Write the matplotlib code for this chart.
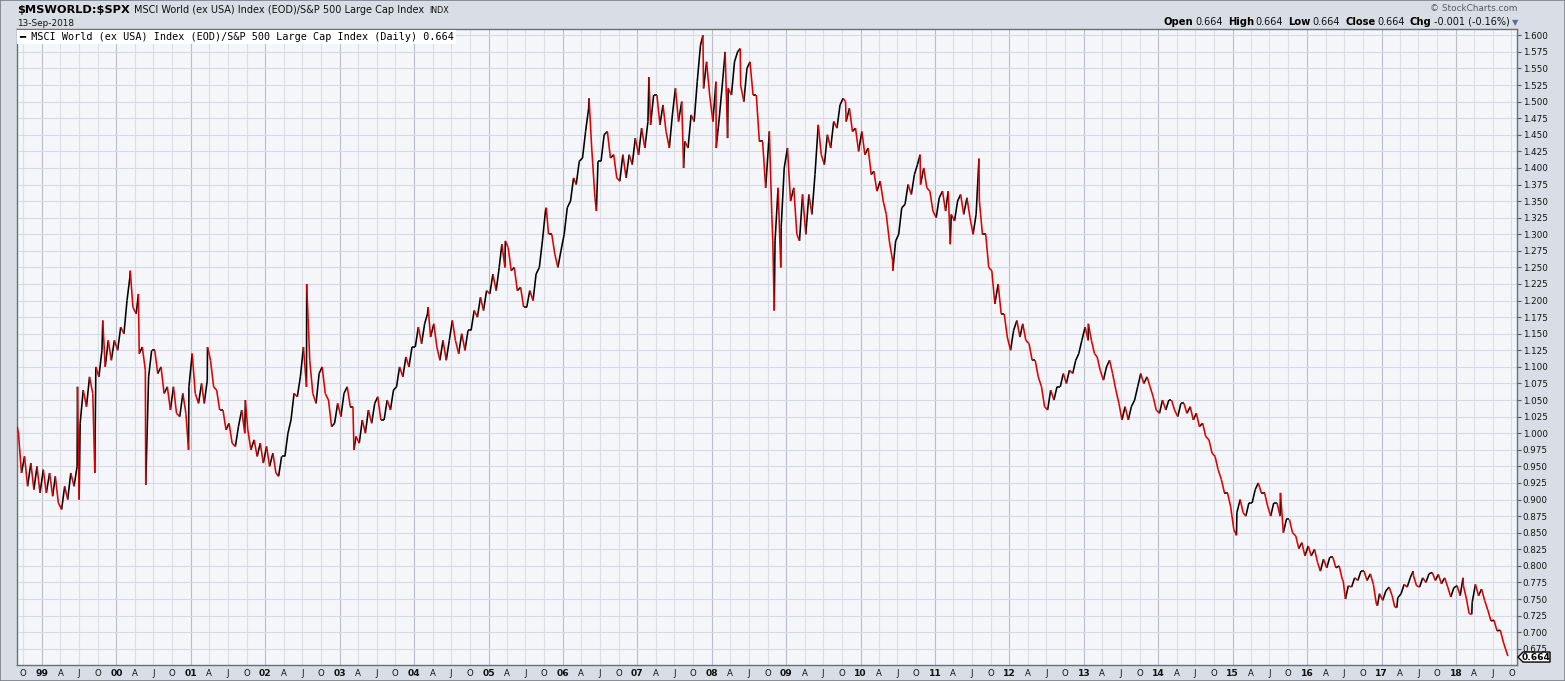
import matplotlib
matplotlib.use('Agg')
import matplotlib.dates as mdates
import matplotlib.transforms as mtransforms
import numpy as np
import pandas as pd
from matplotlib import pyplot as plt
from matplotlib.collections import LineCollection
from matplotlib.patches import Polygon, Rectangle
from matplotlib.ticker import FormatStrFormatter, FuncFormatter

W, H = 1565, 681

# - Data

# monthly low / high of the ratio, Sep 1998 .. Aug 2018
month_lo = [
    0.94, 0.92, 0.915, 0.91,
    0.91, 0.905, 0.895, 0.885, 0.90, 0.92, 1.015, 1.04, 1.06, 1.085, 1.10, 1.11,
    1.125, 1.15, 1.19, 1.12, 1.095, 1.085, 1.09, 1.06, 1.035, 1.03, 1.025, 1.03,
    1.06, 1.045, 1.045, 1.07, 1.035, 1.005, 0.985, 0.98, 1.00, 0.975, 0.965, 0.955,
    0.95, 0.94, 0.935, 0.965, 1.02, 1.055, 1.07, 1.06, 1.045, 1.06, 1.01, 1.015,
    1.025, 1.04, 0.995, 0.985, 1.00, 1.015, 1.02, 1.02, 1.035, 1.07, 1.085, 1.10,
    1.13, 1.135, 1.145, 1.13, 1.11, 1.11, 1.14, 1.12, 1.125, 1.155, 1.175, 1.185,
    1.21, 1.215, 1.25, 1.245, 1.215, 1.19, 1.19, 1.20, 1.25, 1.30, 1.27, 1.25,
    1.30, 1.35, 1.375, 1.415, 1.43, 1.355, 1.41, 1.415, 1.385, 1.38, 1.385, 1.405,
    1.42, 1.43, 1.465, 1.465, 1.455, 1.43, 1.47, 1.44, 1.43, 1.47, 1.52, 1.51,
    1.47, 1.475, 1.52, 1.51, 1.525, 1.50, 1.51, 1.44, 1.37, 1.33, 1.29, 1.31,
    1.35, 1.30, 1.29, 1.30, 1.33, 1.42, 1.405, 1.43, 1.46, 1.47, 1.455, 1.425,
    1.42, 1.39, 1.365, 1.35, 1.29, 1.26, 1.30, 1.345, 1.36, 1.375, 1.37, 1.335,
    1.325, 1.335, 1.33, 1.32, 1.33, 1.325, 1.30, 1.30, 1.25, 1.195, 1.18, 1.145,
    1.125, 1.145, 1.14, 1.11, 1.085, 1.04, 1.035, 1.05, 1.07, 1.075, 1.09, 1.12,
    1.14, 1.12, 1.095, 1.08, 1.09, 1.045, 1.02, 1.02, 1.05, 1.075, 1.07, 1.035,
    1.03, 1.035, 1.035, 1.025, 1.03, 1.02, 1.01, 0.995, 0.97, 0.945, 0.91, 0.89,
    0.855, 0.88, 0.875, 0.895, 0.91, 0.89, 0.875, 0.875, 0.85, 0.85, 0.826, 0.815,
    0.815, 0.805, 0.792, 0.797, 0.797, 0.78, 0.752, 0.768, 0.778, 0.778, 0.772, 0.742,
    0.748, 0.755, 0.738, 0.758, 0.768, 0.77, 0.768, 0.775, 0.778, 0.773, 0.768, 0.753,
    0.755, 0.75, 0.728, 0.755, 0.748, 0.717, 0.702, 0.685,
]
month_hi = [
    1.00, 0.965, 0.955, 0.95,
    0.945, 0.94, 0.935, 0.92, 0.94, 0.95, 1.065, 1.085, 1.10, 1.125, 1.14, 1.14,
    1.16, 1.20, 1.235, 1.18, 1.13, 1.125, 1.125, 1.10, 1.07, 1.07, 1.06, 1.07,
    1.12, 1.075, 1.08, 1.11, 1.065, 1.035, 1.015, 1.01, 1.035, 1.005, 0.99, 0.985,
    0.98, 0.97, 0.965, 1.00, 1.06, 1.085, 1.13, 1.11, 1.09, 1.10, 1.05, 1.045,
    1.06, 1.07, 1.04, 1.02, 1.035, 1.045, 1.055, 1.05, 1.065, 1.10, 1.115, 1.13,
    1.16, 1.165, 1.18, 1.165, 1.14, 1.14, 1.17, 1.15, 1.155, 1.185, 1.205, 1.215,
    1.24, 1.25, 1.285, 1.28, 1.25, 1.22, 1.215, 1.24, 1.29, 1.335, 1.30, 1.275,
    1.34, 1.385, 1.41, 1.455, 1.49, 1.41, 1.45, 1.455, 1.42, 1.42, 1.42, 1.445,
    1.46, 1.47, 1.51, 1.51, 1.495, 1.48, 1.52, 1.50, 1.48, 1.53, 1.585, 1.56,
    1.53, 1.525, 1.575, 1.56, 1.575, 1.55, 1.56, 1.51, 1.44, 1.44, 1.37, 1.40,
    1.43, 1.37, 1.36, 1.36, 1.39, 1.465, 1.45, 1.47, 1.495, 1.505, 1.49, 1.46,
    1.455, 1.43, 1.395, 1.38, 1.33, 1.29, 1.34, 1.375, 1.39, 1.405, 1.40, 1.365,
    1.355, 1.365, 1.365, 1.35, 1.36, 1.355, 1.33, 1.35, 1.30, 1.245, 1.225, 1.18,
    1.155, 1.17, 1.165, 1.135, 1.11, 1.07, 1.065, 1.07, 1.09, 1.095, 1.11, 1.14,
    1.16, 1.14, 1.115, 1.10, 1.11, 1.065, 1.04, 1.04, 1.07, 1.09, 1.085, 1.055,
    1.05, 1.05, 1.05, 1.045, 1.045, 1.04, 1.03, 1.015, 0.99, 0.965, 0.93, 0.91,
    0.88, 0.90, 0.895, 0.915, 0.925, 0.91, 0.895, 0.895, 0.87, 0.87, 0.845, 0.835,
    0.83, 0.825, 0.81, 0.813, 0.813, 0.80, 0.77, 0.782, 0.792, 0.792, 0.788, 0.758,
    0.762, 0.768, 0.752, 0.772, 0.782, 0.785, 0.782, 0.788, 0.79, 0.787, 0.782, 0.767,
    0.77, 0.77, 0.745, 0.772, 0.765, 0.733, 0.718, 0.703,
]

# single-day spikes and the first / last closes
spike_dates = ['1998-09-01', '1999-06-24', '1999-07-02', '1999-09-17', '1999-10-26',
               '2000-03-09', '2000-04-18', '2000-05-24', '2000-12-20', '2001-03-23',
               '2001-09-25', '2002-07-23', '2003-03-12', '2004-03-10', '2005-03-24',
               '2005-10-11', '2006-05-09', '2006-06-14', '2007-02-27', '2007-08-16',
               '2007-11-19', '2008-01-23', '2008-03-19', '2008-05-20', '2008-10-10',
               '2008-10-27', '2008-11-03', '2008-12-05', '2009-10-19', '2010-06-08',
               '2010-10-20', '2011-03-17', '2011-08-05', '2013-01-23', '2015-01-20',
               '2015-08-24', '2016-06-27', '2016-07-08', '2016-12-12', '2017-03-17',
               '2017-06-05', '2018-02-05', '2018-03-20', '2018-09-13']
spike_vals = [1.01, 1.07, 0.90, 0.94, 1.17,
              1.245, 1.21, 0.922, 0.975, 1.13,
              1.05, 1.225, 0.975, 1.19, 1.29,
              1.34, 1.505, 1.335, 1.537, 1.40,
              1.60, 1.43, 1.445, 1.58, 1.455,
              1.29, 1.185, 1.25, 1.50, 1.245,
              1.42, 1.285, 1.414, 1.165, 0.846,
              0.91, 0.777, 0.75, 0.74, 0.737,
              0.792, 0.782, 0.727, 0.664]

y_ticks = np.arange(0.675, 1.6001, 0.025)

# two prints a month: the low and the high, in the order the trend runs
lo = np.array(month_lo)
hi = np.array(month_hi)
mid = (lo + hi) / 2
nxt = np.append(mid[1:], spike_vals[-1])
first = np.where(nxt >= mid, lo, hi)
second = np.where(nxt >= mid, hi, lo)
months = pd.date_range('1998-09-01', periods=len(lo), freq='MS')
s = pd.concat([pd.Series(first, index=months + pd.Timedelta(days=6)),
               pd.Series(second, index=months + pd.Timedelta(days=21)),
               pd.Series(spike_vals, index=pd.to_datetime(spike_dates))]).sort_index()
last = s.iloc[-1]

# - Plot

plt.rcParams['font.family'] = ['DejaVu Sans']

fig = plt.figure(figsize=(W / 100, H / 100), dpi=100, facecolor='#d9dee6')
ax = fig.add_axes([17 / W, 1 - 665 / H, 1500 / W, 636 / H])
ax.set_facecolor('#f4f6fa')

x = mdates.date2num(s.index.to_pydatetime())
y = s.values
pts = np.column_stack([x, y])
segs = np.stack([pts[:-1], pts[1:]], axis=1)
down = np.diff(y) < 0
ax.add_collection(LineCollection(segs[~down], colors='#000000', linewidths=1.15, zorder=3))
ax.add_collection(LineCollection(segs[down], colors='#e00000', linewidths=1.15, zorder=4))

ax.set_xlim(mdates.date2num(pd.Timestamp('1998-08-31')), mdates.date2num(pd.Timestamp('2018-10-28')))
ax.set_ylim(0.6505, 1.6095)

ax.yaxis.tick_right()
ax.set_yticks(y_ticks)
ax.yaxis.set_major_formatter(FormatStrFormatter('%.3f'))
ax.tick_params(axis='y', direction='out', length=3, width=0.8, color='#555a66',
               pad=1, labelsize=6.3, labelcolor='#111111')

ax.xaxis.set_major_locator(mdates.YearLocator())
ax.xaxis.set_major_formatter(mdates.DateFormatter('%y'))
ax.xaxis.set_minor_locator(mdates.MonthLocator(bymonth=[4, 7, 10]))
ax.xaxis.set_minor_formatter(FuncFormatter(lambda v, p: mdates.num2date(v).strftime('%b')[0]))
ax.tick_params(axis='x', which='both', length=0, pad=3, labelsize=6.2, labelcolor='#111111')
for t in ax.get_xticklabels(which='major'):
    t.set_fontweight('bold')
    t.set_fontsize(6.6)

ax.grid(which='major', axis='x', color='#b9bdc7', lw=0.8)
ax.grid(which='minor', axis='x', color='#dcdfe6', lw=0.8)
ax.grid(which='major', axis='y', color='#d7dae2', lw=0.8)
ax.set_axisbelow(True)
for sp in ax.spines.values():
    sp.set_color('#6a6f7a')
    sp.set_linewidth(1)

# header
def px(xp, yp):
    return xp / W, 1 - yp / H

fig.canvas.draw()
r = fig.canvas.get_renderer()

def run(pieces, xp, yp, right=False):
    objs = []
    for txt, kw, gap in pieces:
        t = fig.text(0, 0, txt, va='baseline', ha='left', **kw)
        objs.append((t, t.get_window_extent(r).width, gap))
    total = sum(w + g for _, w, g in objs)
    cur = xp - total if right else xp
    for t, w, g in objs:
        t.set_position(px(cur, yp))
        cur += w + g
    return cur

run([('\\$MSWORLD:\\$SPX', dict(fontsize=8.2, fontweight='bold', color='black'), 4),
     ('MSCI World (ex USA) Index (EOD)/S&P 500 Large Cap Index', dict(fontsize=7.0, color='#111111'), 5),
     ('INDX', dict(fontsize=5.8, color='#111111'), 0)], 17, 13)
fig.text(*px(17, 26), '13-Sep-2018', fontsize=6.4, color='#111111', va='baseline')

fig.text(*px(1518, 11), '\u00a9 StockCharts.com', fontsize=6.4, color='#555a66',
         ha='right', va='baseline')
bb = dict(fontsize=7.2, fontweight='bold', color='black')
nn = dict(fontsize=7.0, color='#111111')
run([('Open', bb, 2), ('0.664', nn, 5), ('High', bb, 2), ('0.664', nn, 5),
     ('Low', bb, 2), ('0.664', nn, 5), ('Close', bb, 2), ('0.664', nn, 5),
     ('Chg', bb, 2), ('-0.001 (-0.16%)', nn, 2),
     ('\u25bc', dict(fontsize=6, color='#5b6f9e'), 0)], 1518, 25, right=True)

# legend strip
fig.text(*px(19, 40), '\u2501 MSCI World (ex USA) Index (EOD)/S&P 500 Large Cap Index (Daily) 0.664',
         family='DejaVu Sans Mono', fontsize=7.3, color='black', va='baseline',
         bbox=dict(fc='white', ec='none', pad=1.5))

# last value tag
tip = mtransforms.blended_transform_factory(ax.transAxes, ax.transData).transform((1, last))
tx, ty = tip[0] + 1, tip[1] - 1
tag = Polygon([(tx, ty), (tx + 5, ty + 5), (tx + 32, ty + 5), (tx + 32, ty - 5), (tx + 5, ty - 5)],
              closed=True, fc='white', ec='black', lw=1, transform=mtransforms.IdentityTransform())
fig.add_artist(tag)
fig.text(tx + 18.5, ty, '%.3f' % last, fontsize=6.6, fontweight='bold', ha='center', va='center',
         transform=mtransforms.IdentityTransform())

# outer frame
fig.add_artist(Rectangle((0, 0), 1, 1, transform=fig.transFigure, fill=False,
                         ec='#7a7f8a', lw=1.2))

fig.savefig('out.png', dpi=100, facecolor=fig.get_facecolor())
